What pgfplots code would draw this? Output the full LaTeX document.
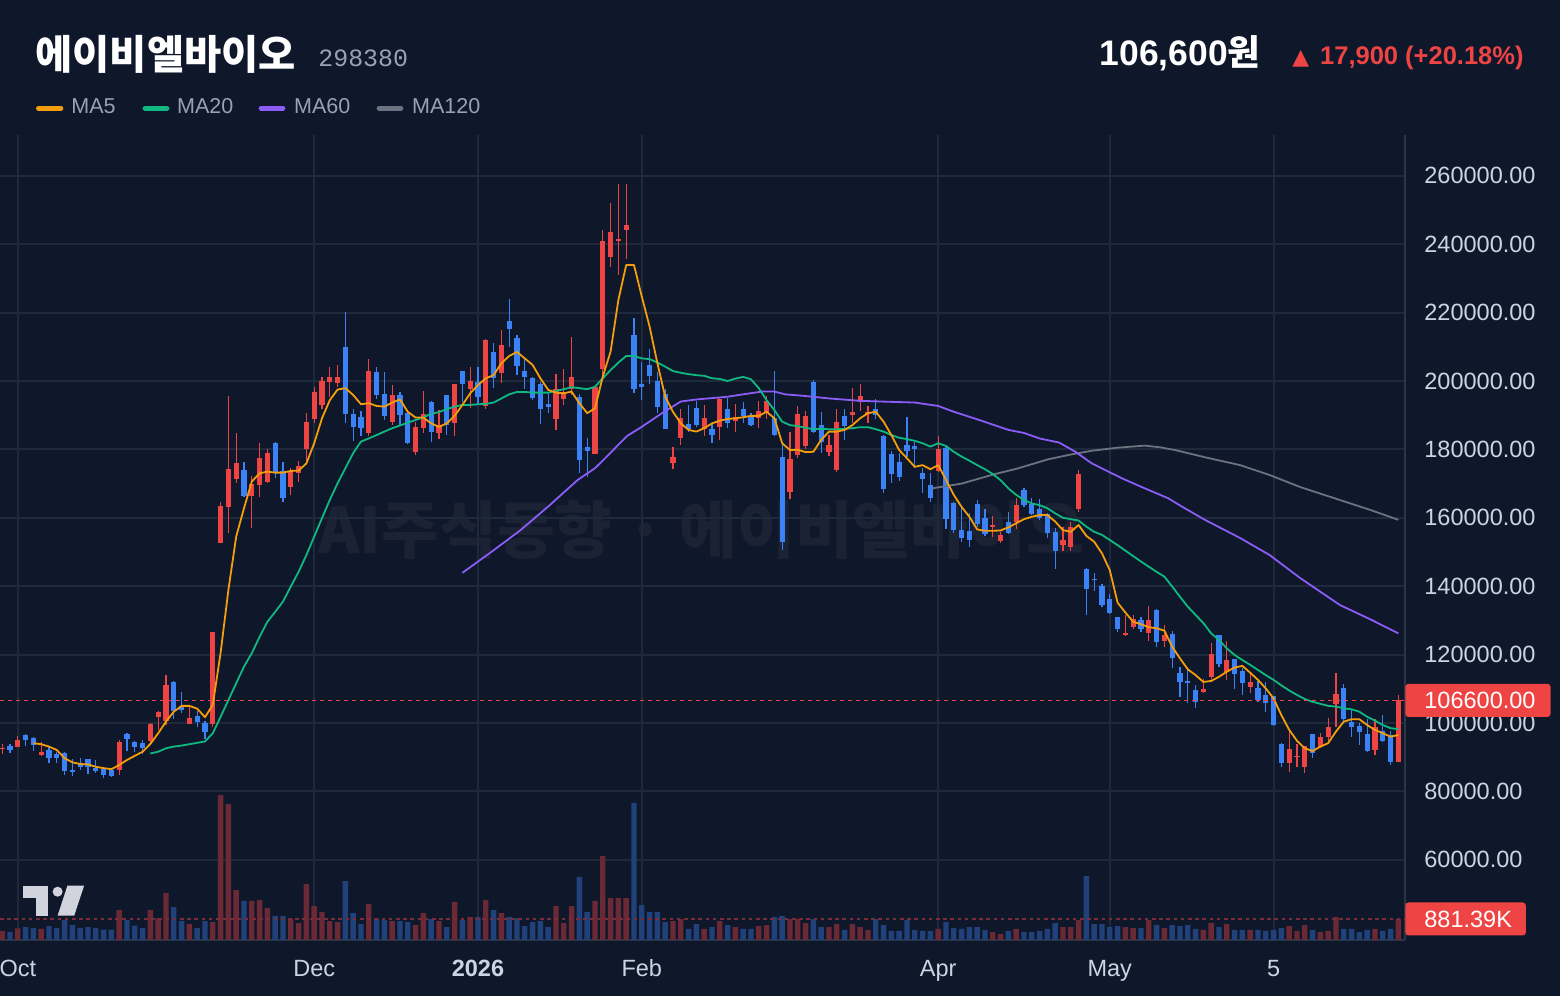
\documentclass[border=0pt]{standalone}
\usepackage{fontspec}
\setmainfont{Liberation Sans}
\newfontfamily\kr{Noto Sans CJK KR}
\newfontfamily\mono{Liberation Mono}
\newfontfamily\dejavu{DejaVu Sans}
\usepackage{pgfplots}
\pgfplotsset{compat=1.18}
\usepackage{pgfplotstable}

\definecolor{bg}{HTML}{0F172A}
\definecolor{cgrid}{HTML}{1E293B}
\definecolor{caxis}{HTML}{2A3546}
\definecolor{cred}{HTML}{EF4444}
\definecolor{cblue}{HTML}{3B82F6}
\definecolor{cvred}{HTML}{6B2835}
\definecolor{cvblue}{HTML}{21417A}
\definecolor{cma5}{HTML}{F59E0B}
\definecolor{cma20}{HTML}{10B981}
\definecolor{cma60}{HTML}{8B5CF6}
\definecolor{cma120}{HTML}{6B7280}
\definecolor{clab}{HTML}{94A3B8}
\definecolor{ctick}{HTML}{CBD5E1}
\definecolor{cwm}{HTML}{1B2233}
\definecolor{clogo}{HTML}{D1D4DC}
\definecolor{cvolline}{HTML}{7A2C38}

% up candles: index, open, high, low, close, volume (K)
\pgfplotstableread{
x o h l c v
0 92.5 94.0 91.0 92.8 353
2 93.1 96.2 93.0 95.0 470
5 90.6 94.4 90.4 91.5 441
15 86.3 95.0 84.8 94.4 1278
19 94.6 100.1 93.7 99.7 1278
20 101.8 103.6 98.0 103.2 911
21 100.7 114.0 99.4 111.1 2027
24 99.7 105.0 99.6 101.5 661
27 99.7 126.5 98.9 126.5 749
28 152.7 164.7 152.6 163.5 6346
29 163.2 195.6 155.6 174.3 5949
30 171.3 184.7 170.3 175.9 2159
32 166.4 172.2 157.1 169.9 1675
33 169.7 181.8 166.0 177.5 1719
34 170.6 180.0 170.3 178.9 1366
37 169.1 174.6 166.8 173.6 881
38 173.0 176.5 170.6 175.0 705
39 180.0 190.6 176.4 188.1 2424
40 188.9 198.2 187.6 196.8 1454
41 192.9 201.1 191.7 200.1 1190
42 199.8 204.2 195.4 201.2 793
43 199.3 204.7 198.3 201.2 749
47 184.9 206.3 183.8 202.9 1542
50 188.1 198.8 187.1 195.9 793
53 179.2 188.1 178.4 186.6 617
54 186.3 197.1 184.9 190.4 1146
56 184.7 191.5 183.0 187.1 793
58 187.8 199.2 183.8 199.1 1631
60 197.7 204.0 192.0 200.0 970
62 192.7 212.2 191.9 212.0 1719
64 202.4 214.9 199.5 210.5 1146
71 189.0 202.1 185.7 197.7 1454
72 194.7 203.5 193.0 196.8 705
73 197.6 212.9 196.0 201.1 1454
76 178.7 198.5 178.6 198.1 1675
77 203.4 244.2 201.3 240.9 3658
78 236.3 252.0 233.4 243.6 1807
79 240.9 257.6 230.9 241.5 1807
80 244.2 257.6 235.6 245.6 1807
86 176.1 180.8 174.2 177.9 793
87 183.4 191.9 181.2 189.3 881
90 185.9 192.9 184.0 189.2 441
92 186.6 195.4 182.7 194.8 793
94 188.4 193.3 185.2 189.6 529
97 189.1 194.2 186.2 191.2 573
98 190.6 195.6 189.0 194.2 617
101 167.5 185.2 165.5 177.1 881
102 178.5 192.6 177.5 190.4 881
103 181.0 191.3 180.0 189.8 705
106 179.3 184.2 178.1 181.3 529
107 174.0 191.7 173.5 188.1 661
109 190.2 197.9 187.6 190.9 661
110 193.9 199.1 191.3 195.7 529
111 190.4 192.7 187.8 191.0 397
120 173.8 183.9 173.5 180.1 441
127 157.4 160.5 154.3 157.8 308
128 153.3 155.9 152.5 155.1 220
130 158.9 165.7 156.6 163.7 441
136 152.1 157.2 150.4 153.5 529
137 151.4 158.9 150.4 157.4 529
138 162.5 174.0 161.8 172.8 837
144 125.7 131.6 125.4 126.4 529
145 128.0 131.6 127.4 130.3 485
147 126.2 134.2 124.1 130.1 837
149 124.1 128.7 122.3 125.7 485
154 109.2 112.8 108.7 109.9 397
155 113.4 123.3 112.8 120.2 705
157 115.0 124.0 112.6 118.4 661
160 110.6 115.0 108.9 112.0 397
165 88.4 97.7 85.8 92.4 573
166 90.0 93.9 87.2 90.4 353
167 87.2 93.4 85.5 93.3 617
169 93.1 97.0 92.6 95.8 308
170 95.8 101.4 94.5 98.7 353
171 105.6 114.5 98.7 108.5 970
176 92.1 101.1 90.6 98.7 441
179 88.7 108.2 88.5 106.6 881.39
}\redtab

% down candles
\pgfplotstableread{
x o h l c v
1 93.4 93.9 91.3 92.2 308
3 96.5 96.8 93.3 95.0 529
4 95.6 95.8 91.9 93.7 485
6 92.1 93.3 88.4 89.8 573
7 90.9 91.5 88.4 89.8 485
8 91.2 91.6 84.8 86.1 837
9 86.3 89.5 84.5 85.8 617
10 88.3 89.8 86.3 87.2 485
11 89.5 89.6 85.1 87.2 529
12 86.9 89.2 85.5 86.1 485
13 86.5 87.1 83.9 84.8 411
14 86.3 86.6 84.3 84.5 411
16 96.8 97.2 91.9 95.4 837
17 94.4 94.8 91.5 93.0 588
18 94.1 95.0 91.0 92.8 485
22 112.0 112.2 101.3 103.6 1410
23 105.0 109.1 102.8 103.8 793
25 102.0 103.5 98.9 100.3 485
26 100.1 100.7 95.4 97.4 793
31 174.0 176.2 166.0 166.4 1675
35 181.9 182.3 171.5 173.0 1014
36 173.7 176.2 164.7 165.8 1014
44 210.0 220.3 187.6 190.4 2556
45 190.4 191.8 182.5 186.6 1146
46 189.4 191.2 183.9 186.2 661
48 202.7 204.0 194.6 195.9 881
49 196.2 202.7 188.6 189.8 837
51 195.9 196.9 187.1 190.1 793
52 190.6 190.9 181.5 181.9 749
55 193.9 194.2 182.2 185.1 881
57 195.8 196.0 184.2 187.0 529
59 202.9 203.0 194.0 199.2 837
61 199.7 204.0 193.0 195.4 970
63 208.5 211.1 198.0 201.0 1278
65 217.5 223.9 209.9 215.3 970
66 212.7 213.5 201.8 204.5 925
67 202.9 206.8 197.6 201.1 573
68 200.8 201.1 194.3 195.0 749
69 199.1 199.7 187.4 191.8 793
70 193.3 196.4 190.7 192.4 529
74 195.3 196.2 173.2 176.9 2732
75 180.6 183.3 172.0 179.4 1190
81 213.5 218.4 196.4 197.6 5994
82 199.1 205.6 194.5 198.1 1498
83 204.6 209.5 199.0 201.5 1190
84 200.1 202.6 190.6 192.5 1190
85 196.2 197.6 185.9 186.1 749
88 187.4 193.0 185.2 185.9 441
89 192.2 194.2 186.6 187.0 661
91 185.9 187.4 181.9 184.3 529
93 191.8 195.1 186.3 187.8 617
95 191.8 193.9 187.8 189.8 441
96 189.8 190.6 186.8 187.2 441
99 189.2 203.0 184.0 184.2 970
100 177.7 181.6 150.5 153.0 1014
104 199.8 200.3 184.8 185.1 881
105 187.1 191.0 178.9 182.3 529
108 189.8 191.7 182.8 186.8 397
112 191.7 194.6 188.8 190.1 881
113 183.9 184.3 167.2 168.5 617
114 178.6 179.5 170.1 172.7 353
115 176.4 178.9 170.9 172.0 353
116 181.3 189.6 177.7 179.6 837
117 181.0 182.3 174.5 180.0 397
118 173.2 174.5 167.3 171.4 353
119 169.6 173.0 164.7 165.9 353
121 180.3 180.8 156.8 159.6 749
122 164.2 164.5 155.5 156.3 485
123 156.4 162.9 153.0 154.0 441
124 156.1 161.5 151.4 153.5 529
125 164.0 165.2 157.4 158.2 529
126 159.9 162.7 154.7 155.3 397
129 158.7 161.6 155.3 155.6 353
131 168.1 168.6 163.3 163.7 308
132 164.0 165.7 160.8 161.1 308
133 162.5 165.4 159.4 159.9 353
134 161.1 161.3 154.2 155.6 441
135 155.8 156.9 145.0 150.4 705
139 145.0 145.4 131.6 139.2 2776
140 142.1 143.8 138.7 141.7 661
141 140.1 140.6 134.0 134.5 661
142 136.3 137.7 131.9 132.1 529
143 130.9 131.0 126.6 127.5 573
146 130.1 131.1 126.6 127.4 485
148 133.0 133.2 122.3 123.8 617
150 126.0 127.0 116.0 119.0 617
151 114.5 116.4 107.7 112.1 573
152 112.2 116.4 105.8 111.8 617
153 109.6 111.1 104.3 106.2 441
156 125.7 125.8 116.5 117.3 529
158 118.6 118.8 109.9 114.3 397
159 115.3 116.0 108.2 111.8 397
161 110.1 112.4 106.2 106.7 397
162 108.2 112.0 103.3 105.9 353
163 107.9 108.0 99.0 99.4 397
164 93.9 94.2 87.0 88.4 485
168 96.7 96.8 89.9 91.1 397
172 110.1 111.4 100.4 101.1 441
173 100.4 104.0 96.0 98.7 441
174 99.1 99.9 93.6 97.5 308
175 96.8 101.1 91.6 91.8 397
177 97.7 102.3 94.5 94.8 353
178 96.5 97.7 87.7 88.7 441
}\bluetab

\pgfplotstableread{
x y
4 94.1
5 93.8
6 93.1
7 92.1
8 89.7
9 88.5
10 88.0
11 87.9
12 87.2
13 86.8
14 86.5
15 87.7
16 89.2
17 90.4
18 91.6
19 93.9
20 97.0
21 100.4
22 103.3
23 105.0
24 105.0
25 104.2
26 101.7
27 105.3
28 120.5
29 138.9
30 154.5
31 162.8
32 170.6
33 173.0
34 173.5
35 173.2
36 173.2
37 173.7
38 173.8
39 175.9
40 181.8
41 189.1
42 194.4
43 197.5
44 197.9
45 195.9
46 193.2
47 193.5
48 192.7
49 192.5
50 193.7
51 194.6
52 191.0
53 189.3
54 189.3
55 187.6
56 186.6
57 187.6
58 189.8
59 193.0
60 196.4
61 198.8
62 200.8
63 201.7
64 205.2
65 207.3
66 208.5
67 206.6
68 204.7
69 200.8
70 197.4
71 196.6
72 196.4
73 196.9
74 193.5
75 190.6
76 192.0
77 201.3
78 208.6
79 223.7
80 233.9
81 233.9
82 224.7
83 215.9
84 205.2
85 195.4
86 191.0
87 187.6
88 185.7
89 185.2
90 186.2
91 187.6
92 188.4
93 188.9
94 189.1
95 189.4
96 189.8
97 189.8
98 191.0
99 189.1
100 181.8
101 179.8
102 179.9
103 179.2
104 179.3
105 182.8
106 185.2
107 185.2
108 185.7
109 187.1
110 189.1
111 190.6
112 191.0
113 188.1
114 184.2
115 179.8
116 177.4
117 174.9
118 175.4
119 174.2
120 175.4
121 171.1
122 166.7
123 163.2
124 160.3
125 156.6
126 156.2
127 156.2
128 156.3
129 157.2
130 158.4
131 159.6
132 160.3
133 160.8
134 160.8
135 158.9
136 156.4
137 155.9
138 157.9
139 154.7
140 153.0
141 149.6
142 144.7
143 135.2
144 132.3
145 129.6
146 128.9
147 128.0
148 127.7
149 127.0
150 122.3
151 118.9
152 115.7
153 114.0
154 112.0
155 112.3
156 113.5
157 115.0
158 116.2
159 116.7
160 114.7
161 112.6
162 110.1
163 107.2
164 102.3
165 98.0
166 94.8
167 92.6
168 91.8
169 93.1
170 94.1
171 97.5
172 100.4
173 101.1
174 101.1
175 99.4
176 98.0
177 97.0
178 96.0
179 96.5
}\mafive

\pgfplotstableread{
x y
19 91.1
20 91.6
21 92.6
22 93.1
23 93.4
24 93.8
25 94.2
26 94.6
27 97.0
28 101.8
29 106.7
30 111.6
31 116.5
32 120.4
33 125.2
34 129.6
35 132.5
36 135.5
37 139.9
38 144.2
39 149.1
40 154.5
41 159.9
42 165.2
43 170.1
44 174.5
45 178.9
46 182.3
47 183.2
48 184.2
49 185.2
50 186.2
51 187.0
52 187.8
53 188.6
54 189.4
55 190.4
56 190.9
57 191.8
58 192.5
59 193.0
60 193.0
61 193.2
62 193.3
63 193.7
64 194.9
65 196.1
66 196.8
67 196.8
68 196.6
69 196.6
70 196.6
71 197.1
72 197.6
73 198.2
74 197.9
75 197.6
76 198.3
77 200.8
78 203.2
79 205.4
80 207.3
81 207.3
82 206.6
83 206.4
84 205.4
85 204.2
86 202.9
87 202.4
88 202.0
89 201.7
90 201.5
91 200.8
92 200.6
93 200.0
94 200.7
95 201.2
96 200.5
97 197.9
98 194.4
99 191.5
100 188.1
101 187.1
102 186.8
103 186.3
104 185.9
105 186.0
106 185.9
107 185.9
108 186.0
109 186.2
110 186.5
111 186.5
112 185.9
113 185.2
114 184.2
115 183.4
116 183.0
117 182.5
118 181.8
119 180.8
120 181.8
121 181.0
122 179.3
123 177.9
124 176.7
125 175.4
126 174.2
127 172.8
128 171.0
129 168.6
130 166.7
131 165.2
132 164.2
133 163.7
134 162.8
135 161.3
136 160.0
137 159.6
138 159.2
139 157.4
140 155.9
141 155.0
142 153.5
143 152.0
144 150.4
145 148.8
146 147.2
147 145.7
148 144.2
149 142.8
150 139.9
151 136.9
152 134.0
153 131.6
154 129.2
155 126.2
156 124.3
157 121.8
158 119.9
159 118.4
160 117.0
161 115.5
162 114.0
163 112.6
164 111.0
165 109.5
166 108.2
167 107.0
168 106.2
169 105.6
170 105.0
171 104.8
172 104.3
173 104.0
174 103.3
175 101.8
176 100.7
177 99.4
178 98.5
179 98.2
}\matwenty

\pgfplotstableread{
x y
59 143.9
63 150.5
66.4 156.3
70 163.3
73.8 171.1
76 174.5
77.3 177.4
80.1 183.9
82 186.6
84.6 190.6
87 194.0
89 194.6
91 195.0
93 195.4
95 196.1
97.4 196.9
99 196.9
100.4 196.1
103 195.6
106 194.9
110 194.2
114 193.9
117 193.7
120 192.7
122 191.0
125 188.8
129 185.7
131 184.8
133 183.2
135.5 182.0
137.6 179.3
139.7 175.9
143.6 171.5
146.5 168.6
149.5 165.7
151.3 163.2
154.2 159.4
158.7 154.1
162.5 149.1
166.4 142.4
171.5 134.5
175.6 130.1
179 126.2
}\masixty

\pgfplotstableread{
x y
119.2 168.6
123 170.0
127.3 172.8
130 174.3
134.1 177.1
137 178.5
139.7 179.6
143 180.5
146.5 181.1
148.5 180.6
150.4 179.8
154.2 177.7
158.7 175.4
162.5 172.5
166.4 169.0
171.5 165.2
175.4 162.3
179 159.4
}\maonetwenty

\begin{document}
\begin{tikzpicture}
\useasboundingbox (0,0) rectangle (780bp,498bp);
\fill[bg] (0,0) rectangle (780bp,498bp);

% watermark
\node[text=cwm, font=\kr\bfseries\fontsize{31.5}{31.5}\selectfont, inner sep=0pt] at (350.5bp,233bp) {AI주식동향 · 에이비엘바이오};

\begin{axis}[
  at={(0bp,28bp)}, anchor=south west,
  width=702.5bp, height=402.5bp, scale only axis,
  xmin=-0.282, xmax=179.85, ymin=36.55, ymax=271.93,
  axis x line*=bottom, axis y line*=right,
  axis line style={caxis, line width=1bp},
  clip mode=individual,
  xtick={2,40,61,82,120,142,163},
  xticklabels={Oct,Dec,\textbf{2026},Feb,Apr,May,5},
  ytick={60,80,100,120,140,160,180,200,220,240,260},
  yticklabels={60000.00,80000.00,100000.00,120000.00,140000.00,160000.00,180000.00,200000.00,220000.00,240000.00,260000.00},
  major tick length=0pt,
  grid=major, grid style={cgrid, line width=1bp},
  ticklabel style={text=ctick, font=\fontsize{11.8}{12}\selectfont},
  xticklabel style={anchor=base, inner sep=0pt, yshift=-18.5bp},
  yticklabel style={anchor=west, inner sep=0pt, xshift=9.5bp},
]
% volume
\addplot[ybar, bar width=2.7bp, bar shift=0pt, draw=none, fill=cvred]
  table[x=x, y expr=36.84+\thisrow{v}*0.006635] {\redtab};
\addplot[ybar, bar width=2.7bp, bar shift=0pt, draw=none, fill=cvblue]
  table[x=x, y expr=36.84+\thisrow{v}*0.006635] {\bluetab};
% wicks
\addplot[draw=none, mark=none, error bars/.cd, y dir=plus, y explicit, error mark=none, error bar style={draw=cred, solid, line width=0.65bp}]
  table[x=x, y=l, y error plus expr=\thisrow{h}-\thisrow{l}] {\redtab};
\addplot[draw=none, mark=none, error bars/.cd, y dir=plus, y explicit, error mark=none, error bar style={draw=cblue, solid, line width=0.65bp}]
  table[x=x, y=l, y error plus expr=\thisrow{h}-\thisrow{l}] {\bluetab};
% bodies
\addplot[draw=none, mark=none, error bars/.cd, y dir=plus, y explicit, error mark=none, error bar style={draw=cred, solid, line width=2.6bp}]
  table[x=x, y=o, y error plus expr=\thisrow{c}-\thisrow{o}] {\redtab};
\addplot[draw=none, mark=none, error bars/.cd, y dir=plus, y explicit, error mark=none, error bar style={draw=cblue, solid, line width=2.6bp}]
  table[x=x, y=c, y error plus expr=\thisrow{o}-\thisrow{c}] {\bluetab};
% moving averages
\addplot[cma120, line width=0.9bp, mark=none, line join=round] table[x=x,y=y] {\maonetwenty};
\addplot[cma60, line width=0.9bp, mark=none, line join=round] table[x=x,y=y] {\masixty};
\addplot[cma20, line width=0.9bp, mark=none, line join=round] table[x=x,y=y] {\matwenty};
\addplot[cma5, line width=0.9bp, mark=none, line join=round] table[x=x,y=y] {\mafive};
% last price and last volume lines
\addplot[cred, line width=0.9bp, dash pattern=on 2bp off 2bp, mark=none] coordinates {(-0.282,106.6) (179.85,106.6)};
\addplot[cvolline, line width=0.9bp, dash pattern=on 1.8bp off 1.8bp, mark=none] coordinates {(-0.282,42.69) (179.85,42.69)};
% value boxes
\node[fill=cred, text=white, anchor=west, inner xsep=0pt, inner ysep=0pt, minimum height=16.5bp, rounded corners=1.5bp, font=\fontsize{11.8}{12}\selectfont] at (axis cs:179.85,106.6) {\kern9.5bp 106600.00\kern7.5bp};
\node[fill=cred, text=white, anchor=west, inner xsep=0pt, inner ysep=0pt, minimum height=16.5bp, rounded corners=1.5bp, font=\fontsize{11.8}{12}\selectfont] at (axis cs:179.85,42.69) {\kern9.5bp 881.39K\kern6.9bp};
\end{axis}

% TradingView logo
\fill[clogo] (11.7bp,49.15bp) rectangle (24.05bp,55.15bp);
\fill[clogo] (18bp,40.15bp) rectangle (24.05bp,49.15bp);
\fill[clogo] (28.8bp,52.15bp) circle (2.5bp);
\fill[clogo] (33.7bp,55.15bp) -- (42.05bp,55.15bp) -- (37.1bp,40.15bp) -- (28.8bp,40.15bp) -- cycle;

% header
\node[anchor=base west, text=white, font=\kr\bfseries\fontsize{20.3}{20.3}\selectfont, inner sep=0pt] at (17.5bp,463bp) {에이비엘바이오};
\node[anchor=base west, text=clab, font=\mono\fontsize{12.5}{12.5}\selectfont, inner sep=0pt] at (159bp,464.7bp) {298380};
\node[anchor=base east, text=white, font=\bfseries\fontsize{17.8}{17.8}\selectfont, inner sep=0pt] at (630.5bp,465bp) {106,600{\kr\bfseries 원}};
\node[anchor=base east, text=cred, font=\bfseries\fontsize{12.8}{12.8}\selectfont, inner sep=0pt] at (762bp,465.5bp) {{\dejavu\fontsize{11}{11}\selectfont ▲}\hspace{5.5bp}17,900 (+20.18\%)};

% legend
\draw[cma5, line width=2.35bp, line cap=round] (19.2bp,443.85bp) -- (30.5bp,443.85bp);
\draw[cma20, line width=2.35bp, line cap=round] (72.5bp,443.85bp) -- (83.5bp,443.85bp);
\draw[cma60, line width=2.35bp, line cap=round] (130.5bp,443.85bp) -- (141.5bp,443.85bp);
\draw[cma120, line width=2.35bp, line cap=round] (189.5bp,443.85bp) -- (200.5bp,443.85bp);
\node[anchor=base west, text=clab, font=\fontsize{10.8}{10.8}\selectfont, inner sep=0pt] at (35.5bp,441bp) {MA5};
\node[anchor=base west, text=clab, font=\fontsize{10.8}{10.8}\selectfont, inner sep=0pt] at (88.35bp,441bp) {MA20};
\node[anchor=base west, text=clab, font=\fontsize{10.8}{10.8}\selectfont, inner sep=0pt] at (146.85bp,441bp) {MA60};
\node[anchor=base west, text=clab, font=\fontsize{10.8}{10.8}\selectfont, inner sep=0pt] at (205.85bp,441bp) {MA120};
\end{tikzpicture}
\end{document}
